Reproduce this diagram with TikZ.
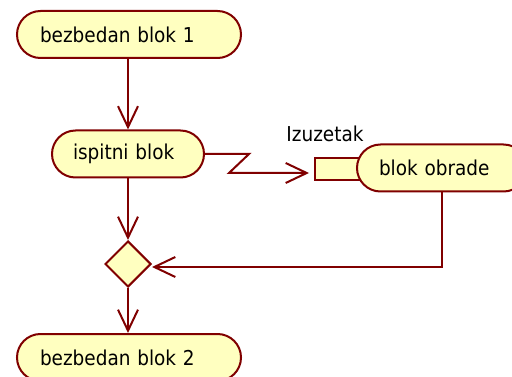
\documentclass[tikz,border=0pt]{standalone}
\usepackage{fontspec}
\setmainfont{DejaVu Sans Condensed}
\usetikzlibrary{arrows.meta,shapes.geometric,calc}
\definecolor{umlline}{RGB}{128,0,0}
\definecolor{umlfill}{RGB}{255,255,192}
\tikzset{
  activity/.style={draw=umlline, fill=umlfill, line width=2pt,
    rounded corners=23.5pt, minimum height=47pt, inner ysep=0pt,
    align=left, font=\fontsize{20.5}{24}\selectfont, anchor=center},
  decision/.style={draw=umlline, fill=umlfill, line width=2pt, diamond,
    minimum width=46pt, minimum height=46pt, inner sep=0pt},
  pinbox/.style={draw=umlline, fill=umlfill, line width=2pt,
    minimum width=48pt, minimum height=22pt, inner sep=0pt},
  flow/.style={draw=umlline, line width=2pt,
    -{Straight Barb[length=21pt,width=20pt,line width=2pt]}},
}
\begin{document}
\begin{tikzpicture}[x=1pt,y=-1pt]
\useasboundingbox (0,0) rectangle (512,377);
\fill[white] (0,0) rectangle (512,377);

% actions
\node[activity, text width=178pt, inner xsep=23pt] (b1) at (129,34.5) {bezbedan blok 1};
\node[activity, text width=110pt, inner xsep=21pt] (isp) at (128,154) {ispitni blok};
% exception input pin, partly hidden behind the handler
\node[pinbox] (pin) at (339,169) {};
\node[font=\fontsize{20.5}{24}\selectfont, anchor=base] (lbl) at (325,142) {Izuzetak};
\node[activity, text width=126pt, inner xsep=22pt] (obr) at (442,168) {blok obrade};
\node[decision] (dia) at (128,264) {};
\node[activity, text width=178pt, inner xsep=23pt] (b2) at (129,357.5) {bezbedan blok 2};

% flows
\draw[flow] (b1.south -| isp.north) -- (isp.north);
\draw[flow] (isp.south) -- (dia.north);
\draw[flow] (dia.south) -- (b2.north -| dia.south);
\coordinate (z1) at (249,154);
\coordinate (z2) at (229,173);
\draw[flow, shorten >=5pt] (isp.east) -- (z1) -- (z2) -- (z2 -| pin.west);
\draw[flow] (obr.south) |- ($(dia.east)+(0,3)$);
\end{tikzpicture}
\end{document}
